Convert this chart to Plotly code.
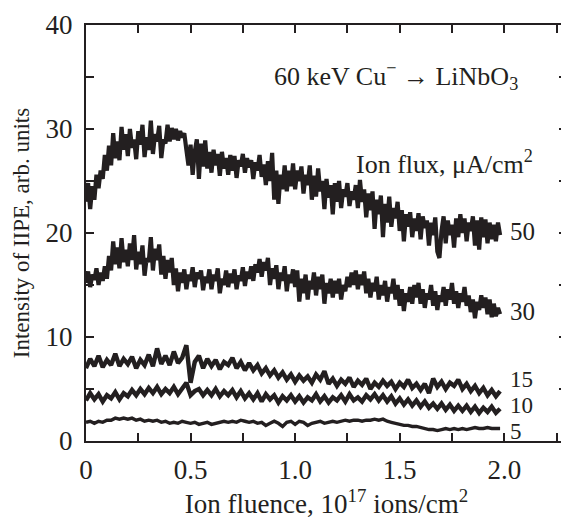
import plotly.graph_objects as go

# Ion fluence grid (10^17 ions/cm^2)
x_dense = [round(i * 0.01, 2) for i in range(199)]   # 0.00 .. 1.98
x_coarse = [round(i * 0.02, 2) for i in range(100)]  # 0.00 .. 1.98

flux_50 = [
    23.0, 24.8, 22.3, 24.5, 23.2, 25.6, 24.3, 26.0, 25.2, 27.5,
    26.0, 28.4, 26.5, 29.6, 27.2, 28.8, 27.0, 30.2, 28.0, 29.5,
    27.4, 30.0, 28.2, 29.0, 27.1, 29.8, 28.5, 30.4, 27.3, 29.2,
    28.0, 30.8, 27.6, 29.5, 28.8, 30.3, 27.2, 29.0, 28.6, 30.4,
    28.8, 30.1, 29.0, 30.0, 28.9, 29.8, 29.2, 29.6, 28.0, 26.5,
    28.5, 25.6, 27.8, 29.0, 25.2, 28.6, 26.4, 28.9, 26.2, 27.8,
    25.8, 28.0, 26.5, 27.6, 25.5, 27.8, 26.2, 27.2, 25.6, 27.5,
    26.0, 27.4, 25.3, 27.0, 26.4, 27.6, 25.8, 27.2, 26.3, 27.0,
    25.2, 26.8, 26.0, 27.5, 25.4, 26.6, 24.6, 26.9, 25.0, 27.7,
    23.2, 26.0, 22.8, 25.6, 24.2, 26.5, 24.0, 26.0, 24.5, 26.7,
    24.2, 26.0, 25.0, 26.4, 23.8, 25.6, 24.6, 26.5, 23.2, 25.5,
    23.5, 26.2, 24.0, 25.0, 22.3, 25.2, 23.4, 24.6, 21.8, 24.8,
    23.0, 25.0, 22.4, 24.2, 23.5, 24.8, 22.6, 24.0, 23.2, 24.6,
    22.4, 25.1, 23.0, 24.2, 21.5, 23.8, 22.2, 24.0, 20.4, 23.2,
    21.8, 23.6, 19.6, 22.8, 21.0, 23.5, 20.6, 22.4, 21.4, 23.0,
    20.2, 22.2, 19.2, 21.8, 20.6, 22.0, 19.6, 21.4, 20.2, 21.9,
    19.4, 21.6, 20.5, 21.2, 18.8, 21.0, 19.8, 21.5, 18.2, 17.6,
    20.2, 21.6, 19.0, 21.2, 19.8, 20.8, 18.6, 21.4, 19.6, 21.8,
    20.0, 21.4, 19.2, 21.0, 20.2, 21.6, 18.8, 21.2, 18.4, 21.5,
    19.6, 21.3, 19.0, 21.0, 19.4, 20.8, 19.2, 21.0, 19.8,
]

flux_30 = [
    15.2, 16.3, 14.8, 16.0, 15.5, 16.6, 15.0, 16.2, 15.4, 16.8,
    15.6, 17.8, 16.4, 19.2, 17.0, 18.6, 16.6, 19.5, 17.2, 18.4,
    16.8, 19.0, 17.4, 19.8, 16.5, 18.2, 17.0, 18.8, 15.9, 17.6,
    17.2, 19.6, 16.4, 18.5, 17.4, 18.9, 16.0, 17.8, 15.6, 17.4,
    16.2, 17.6, 15.0, 16.6, 14.4, 16.2, 15.2, 16.5, 14.6, 16.0,
    15.4, 16.7, 14.8, 16.2, 15.6, 16.4, 14.5, 15.8, 15.2, 16.5,
    14.6, 16.0, 15.4, 16.6, 14.2, 15.6, 15.0, 16.4, 14.8, 16.1,
    15.2, 16.5, 14.6, 15.9, 15.4, 16.7, 14.9, 16.3, 15.6, 16.8,
    15.4, 17.0, 16.2, 17.5, 15.8, 17.2, 16.4, 17.6, 15.0, 16.6,
    15.6, 16.9, 14.6, 16.2, 15.4, 16.8, 14.4, 16.0, 15.2, 16.5,
    14.8, 16.4, 13.4, 15.6, 14.2, 16.0, 13.6, 15.4, 14.6, 16.2,
    14.0, 15.8, 14.6, 16.0, 13.2, 15.2, 14.2, 15.6, 13.8, 15.4,
    14.2, 15.6, 13.6, 15.0, 14.4, 15.8, 14.8, 16.2, 15.0, 16.4,
    14.6, 16.0, 15.0, 16.3, 14.2, 15.6, 13.8, 15.2, 14.4, 15.8,
    13.6, 15.0, 14.0, 15.4, 13.4, 14.8, 14.2, 15.6, 13.6, 15.0,
    13.0, 14.6, 12.5, 14.2, 13.4, 14.8, 13.2, 15.0, 13.8, 15.2,
    13.2, 14.6, 12.8, 14.2, 13.6, 15.0, 13.0, 14.4, 12.6, 14.0,
    13.4, 14.8, 13.0, 14.6, 13.6, 15.2, 13.2, 14.4, 12.8, 14.2,
    13.4, 14.8, 13.0, 14.0, 12.4, 13.6, 11.8, 13.4, 12.6, 14.0,
    12.8, 13.8, 12.2, 13.6, 11.9, 13.2, 12.0, 12.8, 12.2,
]

flux_15 = [
    7.0, 7.9, 7.2, 8.2, 7.1, 7.8, 7.3, 8.4, 7.2, 7.9,
    7.4, 8.1, 7.0, 7.8, 7.3, 8.3, 7.2, 8.9, 7.4, 8.2,
    7.3, 8.6, 7.5, 8.0, 9.2, 5.6, 7.6, 8.2, 7.0, 7.9,
    7.2, 7.8, 6.9, 7.6, 7.3, 8.0, 7.0, 7.6, 6.8, 7.5,
    6.8, 7.3, 6.5, 7.0, 6.3, 6.8, 6.1, 6.6, 5.9, 6.4,
    5.7, 6.3, 5.8, 6.2, 5.6, 6.4, 5.9, 6.7, 5.5, 6.0,
    5.3, 5.9, 5.5, 6.1, 5.2, 5.8, 5.4, 6.0, 5.0, 5.6,
    5.2, 5.8, 5.3, 5.7, 5.0, 5.6, 5.2, 5.9, 5.1, 5.5,
    4.9, 5.5, 4.6, 6.0, 5.2, 5.7, 5.0, 5.6, 5.3, 5.9,
    5.0, 5.5, 4.8, 5.3, 4.6, 5.1, 4.4, 4.9, 4.3, 4.8,
]

flux_10 = [
    3.9, 4.6, 4.0, 4.5, 3.8, 4.4, 4.1, 4.7, 4.0, 4.6,
    4.3, 4.9, 4.4, 5.0, 4.5, 5.1, 4.6, 5.2, 4.5, 5.0,
    4.6, 5.2, 4.5, 5.1, 5.6, 4.4, 4.8, 5.0, 4.4, 4.9,
    4.4, 5.0, 4.3, 4.8, 4.4, 4.9, 4.2, 4.8, 4.1, 4.6,
    4.0, 4.6, 3.8, 4.5, 4.0, 4.4, 3.7, 4.3, 3.9, 4.4,
    3.8, 4.3, 3.7, 4.2, 3.9, 4.5, 3.8, 4.3, 3.7, 4.2,
    3.9, 4.4, 3.8, 4.5, 3.9, 4.2, 3.8, 4.4, 4.0, 4.5,
    3.9, 4.4, 3.8, 4.3, 3.6, 4.1, 3.5, 4.0, 3.4, 3.9,
    3.3, 3.8, 3.2, 3.6, 3.1, 3.6, 3.0, 3.5, 2.9, 3.4,
    2.9, 3.4, 2.8, 3.3, 2.7, 3.2, 2.8, 3.3, 2.7, 3.1,
]

flux_5 = [
    1.8, 1.9, 1.7, 1.9, 1.8, 2.0, 2.0, 2.2, 2.1, 2.2,
    2.1, 2.2, 2.0, 2.1, 1.9, 2.0, 1.9, 2.0, 1.8, 1.9,
    1.7, 1.8, 1.7, 1.9, 1.8, 1.7, 1.8, 1.6, 1.7, 1.8,
    1.6, 1.7, 1.8, 1.9, 1.8, 1.9, 1.8, 2.0, 1.9, 1.8,
    1.9, 1.7, 1.8, 1.5, 1.7, 1.9, 1.7, 1.4, 1.8, 1.9,
    1.6, 1.9, 1.8, 1.5, 1.7, 1.8, 1.9, 1.7, 1.8, 1.9,
    1.8, 1.9, 2.0, 1.9, 2.0, 2.0, 1.9, 2.0, 2.0, 2.1,
    2.0, 2.1, 1.9, 1.8, 1.7, 1.6, 1.5, 1.5, 1.4, 1.4,
    1.3, 1.2, 1.1, 1.1, 1.0, 1.1, 1.2, 1.1, 1.2, 1.1,
    1.2, 1.1, 1.2, 1.3, 1.2, 1.2, 1.3, 1.2, 1.2, 1.2,
]

curve_labels = ["50", "30", "15", "10", "5"]
label_y = [20.1, 12.5, 5.95, 3.4, 0.95]

x_tickvals = [0, 0.25, 0.5, 0.75, 1.0, 1.25, 1.5, 1.75, 2.0, 2.25]
x_ticktext = ["0", "", "0.5", "", "1.0", "", "1.5", "", "2.0", ""]
y_tickvals = [0, 5, 10, 15, 20, 25, 30, 35, 40]
y_ticktext = ["0", "", "10", "", "20", "", "30", "", "40"]

FONT = "Liberation Serif, Times New Roman, serif"
INK = "#231f20"

fig = go.Figure()
series = [
    (x_dense, flux_50, 4.2),
    (x_dense, flux_30, 4.2),
    (x_coarse, flux_15, 4.4),
    (x_coarse, flux_10, 4.4),
    (x_coarse, flux_5, 3.4),
]
for xs, ys, w in series:
    fig.add_trace(go.Scatter(x=xs, y=ys, mode="lines",
                             line=dict(color=INK, width=w), showlegend=False))

label_sizes = [25, 25, 23, 23, 23]
for lab, ly, fs in zip(curve_labels, label_y, label_sizes):
    fig.add_annotation(x=2.02, y=ly, text=lab, showarrow=False,
                       xanchor="left", yanchor="middle",
                       font=dict(family=FONT, size=fs, color=INK))

fig.add_annotation(x=2.075, y=35.1, text="60 keV Cu<sup>−</sup> → LiNbO<sub>3</sub>",
                   showarrow=False, xanchor="right", yanchor="middle",
                   font=dict(family=FONT, size=26, color=INK))
fig.add_annotation(x=2.145, y=26.8, text="Ion flux, μA/cm<sup>2</sup>",
                   showarrow=False, xanchor="right", yanchor="middle",
                   font=dict(family=FONT, size=26, color=INK))

axis_common = dict(showline=True, linecolor=INK, linewidth=2, mirror="allticks",
                   ticks="inside", ticklen=8, tickwidth=1.5, tickcolor=INK,
                   showgrid=False, zeroline=False,
                   tickfont=dict(family=FONT, size=27, color=INK))

fig.update_xaxes(range=[0, 2.3], tickmode="array", tickvals=x_tickvals,
                 ticktext=x_ticktext, ticklabelstandoff=4,
                 title=dict(text="Ion fluence, 10<sup>17</sup> ions/cm<sup>2</sup>",
                            font=dict(family=FONT, size=27, color=INK), standoff=4),
                 **axis_common)
fig.update_yaxes(range=[0, 40], tickmode="array", tickvals=y_tickvals,
                 ticktext=y_ticktext, ticklabelstandoff=6,
                 title=dict(text="Intensity of IIPE, arb. units",
                            font=dict(family=FONT, size=23, color=INK), standoff=10),
                 **axis_common)

# page body adds an 8 px offset, so the figure is sized to fit the window
fig.update_layout(width=561, height=511,
                  margin=dict(l=78, r=2, t=17, b=78, autoexpand=False),
                  plot_bgcolor="white", paper_bgcolor="white")

fig.write_html("out.html")
